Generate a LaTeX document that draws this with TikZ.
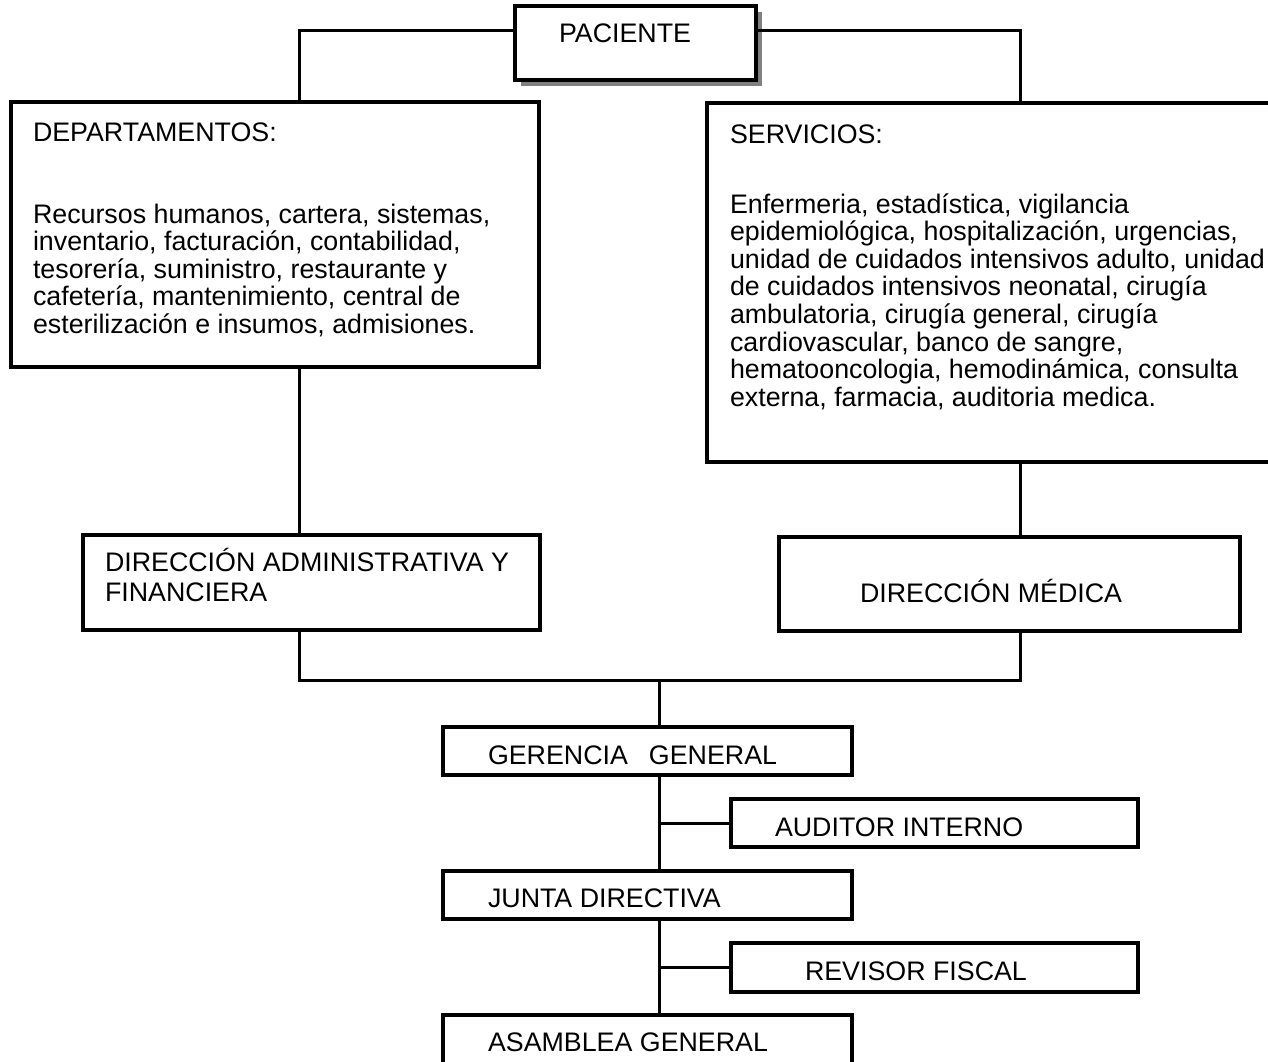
\documentclass[tikz,border=0pt]{standalone}
\usepackage{fontspec}
\setmainfont{Liberation Sans}
\usetikzlibrary{shadows}
\definecolor{shadowgray}{RGB}{128,128,128}

% box given by its name and its corners (x1,y1) (x2,y2), y downwards
\newcommand{\orgbox}[6][]{%
  \node[box,#1,minimum width={(#5-#3)*1pt},minimum height={(#6-#4)*1pt}]
    (#2) at ({(#3+#5)/2},{(#4+#6)/2}) {};}

\begin{document}
\begin{tikzpicture}[x=1pt,y=-1pt,
  box/.style={draw=black, line width=3.5pt, fill=white, rectangle,
              inner sep=0pt, outer sep=0pt},
  conn/.style={draw=black, line width=3pt, line cap=rect, line join=miter},
  txt/.style={inner sep=0pt, outer sep=0pt, anchor=base west,
              font=\fontsize{26.8}{27.6}\selectfont},
]
\useasboundingbox[fill=white] (0,0) rectangle (1268,1062);

% junction points of the connectors
\coordinate (jl) at (299,31);
\coordinate (jr) at (1020,31);
\coordinate (jb) at (659,680);
\coordinate (ja) at (659,823);
\coordinate (jv) at (659,967);

% boxes
\orgbox[drop shadow={shadow xshift=6pt, shadow yshift=-6pt,
        fill=shadowgray, opacity=1}]{pac}{515}{6}{756}{80}
\orgbox{dep}{11}{102}{539}{367}
\orgbox{srv}{707}{103}{1276}{462}
\orgbox{adm}{83}{535}{540}{630}
\orgbox{med}{779}{537}{1240}{631}
\orgbox{ger}{443}{727}{852}{775}
\orgbox{aud}{731}{799}{1138}{847}
\orgbox{jun}{443}{871}{852}{919}
\orgbox{rev}{731}{943}{1138}{992}
\orgbox{asa}{443}{1015}{852}{1072}

% connectors
\draw[conn] (pac.west |- jl) -- (jl) -- (jl |- dep.north);
\draw[conn] (pac.east |- jr) -- (jr) -- (jr |- srv.north);
\draw[conn] (dep.south -| jl) -- (jl |- adm.north);
\draw[conn] (srv.south -| jr) -- (jr |- med.north);
\draw[conn] (adm.south -| jl) -- (jl |- jb) -- (jr |- jb) -- (med.south -| jr);
\draw[conn] (jb) -- (jb |- ger.north);
\draw[conn] (ger.south -| jb) -- (jb |- jun.north);
\draw[conn] (jun.south -| jb) -- (jb |- asa.north);
\draw[conn] (ja) -- (ja -| aud.west);
\draw[conn] (jv) -- (jv -| rev.west);

% texts
\node[txt] (pacT) at (559,43) {PACIENTE};

\node[txt] (depH) at (33,141) {DEPARTAMENTOS:};
\foreach \l [count=\i] in {
  {Recursos humanos, cartera, sistemas,},
  {inventario, facturación, contabilidad,},
  {tesorería, suministro, restaurante y},
  {cafetería, mantenimiento, central de},
  {esterilización e insumos, admisiones.}}
  \node[txt] (depT\i) at (33,{223+27.6*(\i-1)}) {\l};

\node[txt] (srvH) at (730,143) {SERVICIOS:};
\foreach \l [count=\i] in {
  {Enfermeria, estadística, vigilancia},
  {epidemiológica, hospitalización, urgencias,},
  {unidad de cuidados intensivos adulto, unidad},
  {de cuidados intensivos neonatal, cirugía},
  {ambulatoria, cirugía general, cirugía},
  {cardiovascular, banco de sangre,},
  {hematooncologia, hemodinámica, consulta},
  {externa, farmacia, auditoria medica.}}
  \node[txt] (srvT\i) at (730,{213+27.6*(\i-1)}) {\l};

\node[txt] (admT1) at (105,571) {DIRECCIÓN ADMINISTRATIVA Y};
\node[txt] (admT2) at (105,601) {FINANCIERA};
\node[txt] (medT) at (860,602) {DIRECCIÓN MÉDICA};
\node[txt] (gerT) at (488,764) {GERENCIA\hspace{21pt}GENERAL};
\node[txt] (audT) at (775,836) {AUDITOR INTERNO};
\node[txt] (junT) at (488,907) {JUNTA DIRECTIVA};
\node[txt] (revT) at (805,980) {REVISOR FISCAL};
\node[txt] (asaT) at (488,1051) {ASAMBLEA GENERAL};
\end{tikzpicture}
\end{document}
